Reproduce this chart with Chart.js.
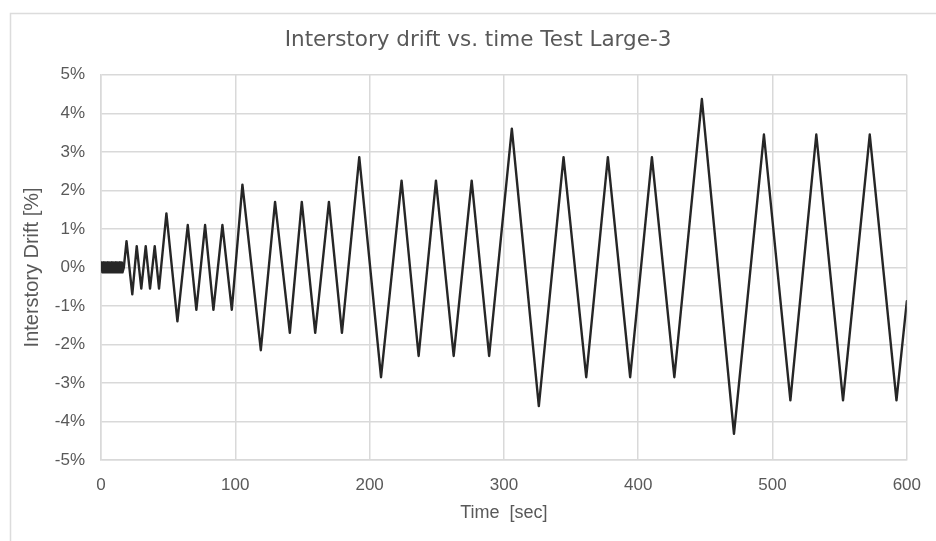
<!DOCTYPE html>
<html>
<head>
<meta charset="utf-8">
<script src="https://cdn.jsdelivr.net/npm/chart.js@4"></script>
<style>
    html, body { margin: 0; padding: 0; background: #ffffff; }
    #wrap { width: 936px; height: 541px; position: relative; }
</style>
</head>
<body>
<div id="wrap"><canvas id="driftChart"></canvas></div>
<script>
// Loading protocol: time stamps of the drift reversals [sec]
const timeSec = [
    0, 0.5, 1, 1.5, 2, 2.5, 3, 3.5, 4, 4.5, 5, 5.5, 6, 6.5, 7, 7.5, 8, 8.5,
    9, 9.5, 10, 10.5, 11, 11.5, 12, 12.5, 13, 13.5, 14, 14.5, 15, 15.5, 16, 17,
    19, 23.3, 26.6, 30, 33.3, 36.5, 40, 43.2,
    48.7, 56.9, 64.6, 71, 77.5, 83.7, 90.4, 97.4,
    105.3, 119, 129.6, 140.6, 149.5, 159.5, 169.7, 179.4,
    192.3, 208.5, 223.8, 236.5, 249.4, 262.6, 276, 289,
    305.9, 326, 344.4, 361.3, 377.4, 394, 410.2, 426.9,
    447.4, 471.3, 493.6, 513.3, 532.6, 552.5, 572.4, 592.3, 600
];

// Interstory drift at those times [%]
const driftPct = [
    0, 0.13, -0.13, 0.13, -0.13, 0.13, -0.13, 0.13, -0.13, 0.13, -0.13, 0.13, -0.13, 0.13, -0.13, 0.13, -0.13, 0.13,
    -0.13, 0.13, -0.13, 0.13, -0.13, 0.13, -0.13, 0.13, -0.13, 0.13, -0.13, 0.13, -0.13, 0.13, -0.13, 0,
    0.68, -0.7, 0.55, -0.55, 0.55, -0.55, 0.55, -0.55,
    1.4, -1.4, 1.1, -1.1, 1.1, -1.1, 1.1, -1.1,
    2.15, -2.15, 1.7, -1.7, 1.7, -1.7, 1.7, -1.7,
    2.86, -2.85, 2.25, -2.3, 2.25, -2.3, 2.25, -2.3,
    3.6, -3.6, 2.86, -2.85, 2.86, -2.85, 2.86, -2.85,
    4.37, -4.32, 3.45, -3.45, 3.45, -3.45, 3.45, -3.45, -0.88
];

const xTicks = [0, 100, 200, 300, 400, 500, 600];
const yTicks = [-5, -4, -3, -2, -1, 0, 1, 2, 3, 4, 5];

const FONT = "'Liberation Sans', Arial, sans-serif";
const TEXT = '#595959';
const GRID = '#d9d9d9';

// thin frame around the whole figure
const framePlugin = {
    id: 'frame',
    beforeDraw(chart) {
        const ctx = chart.ctx;
        ctx.save();
        ctx.strokeStyle = '#dcdcdc';
        ctx.lineWidth = 1.5;
        ctx.beginPath();
        ctx.moveTo(10.5, chart.height);
        ctx.lineTo(10.5, 13.5);
        ctx.lineTo(chart.width, 13.5);
        ctx.stroke();
        ctx.restore();
    }
};

const points = timeSec.map((t, i) => ({ x: t, y: driftPct[i] }));

new Chart(document.getElementById('driftChart'), {
    type: 'line',
    data: {
        datasets: [{
            data: points,
            borderColor: '#262626',
            borderWidth: 2.4,
            borderJoinStyle: 'round',
            borderCapStyle: 'round',
            pointRadius: 0,
            tension: 0,
            fill: false
        }]
    },
    options: {
        responsive: true,
        maintainAspectRatio: false,
        animation: false,
        layout: { padding: { left: 20, right: 0, top: 0, bottom: 0 } },
        plugins: {
            legend: { display: false },
            tooltip: { enabled: false },
            title: {
                display: true,
                text: 'Interstory drift vs. time Test Large-3',
                color: TEXT,
                font: { family: "'DejaVu Sans', sans-serif", size: 21.5, weight: 'normal' },
                padding: { top: 28, bottom: 21 }
            }
        },
        scales: {
            x: {
                type: 'linear',
                min: 0,
                max: 600,
                afterBuildTicks: s => { s.ticks = xTicks.map(v => ({ value: v })); },
                afterFit: s => { s.height = 81; },
                grid: { color: GRID, lineWidth: 1.5, drawTicks: false },
                border: { display: true, color: GRID, width: 1.5 },
                ticks: { color: TEXT, font: { family: FONT, size: 17 }, padding: 15 },
                title: {
                    display: true,
                    text: 'Time  [sec]',
                    color: TEXT,
                    font: { family: FONT, size: 18 },
                    padding: { top: 0, bottom: 17 }
                }
            },
            y: {
                min: -5,
                max: 5,
                afterBuildTicks: s => { s.ticks = yTicks.map(v => ({ value: v })); },
                afterFit: s => { s.width = 81; },
                grid: { color: GRID, lineWidth: 1.5, drawTicks: false },
                border: { display: true, color: GRID, width: 1.5 },
                ticks: {
                    color: TEXT,
                    font: { family: FONT, size: 17 },
                    padding: 16,
                    callback: v => v + '%'
                },
                title: {
                    display: true,
                    text: 'Interstory Drift [%]',
                    color: TEXT,
                    font: { family: FONT, size: 20 },
                    padding: { top: 0, bottom: 0 }
                }
            },
            // empty right-hand axis that only reserves the margin
            yRight: {
                position: 'right',
                display: true,
                afterFit: s => { s.width = 29; },
                grid: { display: false, drawTicks: false },
                border: { display: false },
                ticks: { display: false },
                title: { display: false }
            }
        }
    },
    plugins: [framePlugin]
});
</script>
</body>
</html>
